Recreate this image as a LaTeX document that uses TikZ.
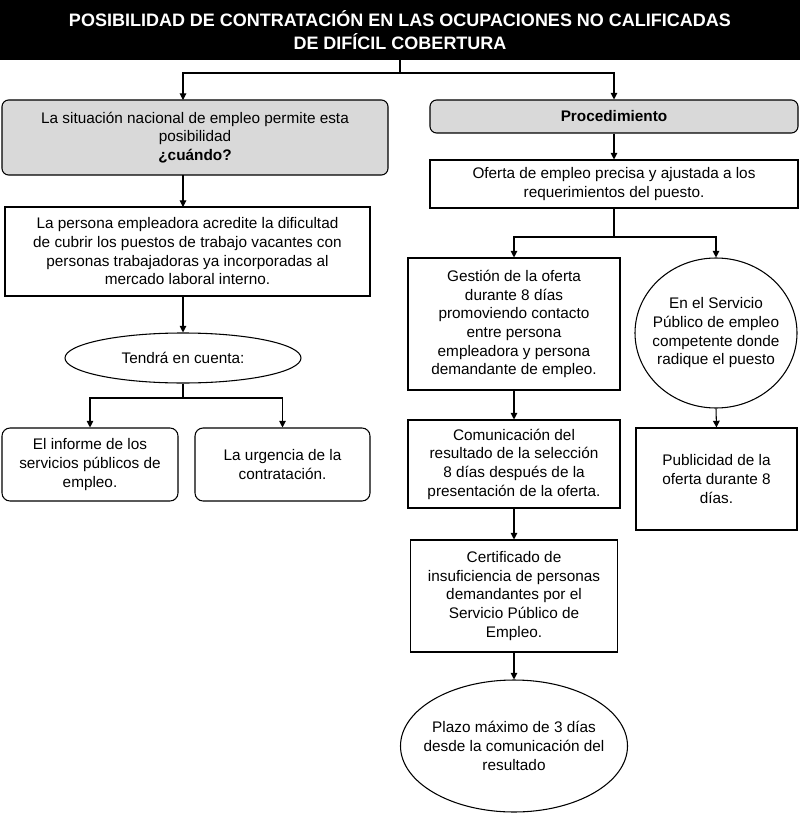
\documentclass[tikz,border=0pt]{standalone}
\usepackage{fontspec}
\setmainfont{Liberation Sans}
\usetikzlibrary{arrows.meta,shapes.geometric}
\begin{document}
\begin{tikzpicture}[x=0.75pt,y=-0.75pt,
 box/.style={draw,thick,fill=white,align=center,inner sep=1pt,font=\fontsize{11.5}{14}\selectfont},
 gbox/.style={box,fill=gray!30,rounded corners=5pt},
 rbox/.style={box,rounded corners=6pt},
 arr/.style={thick,-{Triangle[length=5pt,width=5pt]}},
 ln/.style={thick}]
\useasboundingbox (0,0) rectangle (800,813);
\node[fill=black,minimum width=800*0.75pt,minimum height=60*0.75pt,inner sep=0pt,text=white,align=center,font=\bfseries\fontsize{13.5}{17}\selectfont] (title) at (400,30) {POSIBILIDAD DE CONTRATACIÓN EN LAS OCUPACIONES NO CALIFICADAS\\DE DIFÍCIL COBERTURA};
\node[gbox,minimum width=386*0.75pt,minimum height=75*0.75pt] (sit) at (195,137.5) {La situación nacional de empleo permite esta\\posibilidad\\\textbf{¿cuándo?}};
\node[gbox,minimum width=368*0.75pt,minimum height=33*0.75pt] (proc) at (614,116.5) {\textbf{Procedimiento}};
\coordinate (j1) at (400,73);
\draw[ln] (title.south) -- (j1);
\draw[arr] (j1) -| (183,100);
\draw[arr] (j1) -| (proc.north);
\node[box,minimum width=365*0.75pt,minimum height=89*0.75pt] (acr) at (187.5,251.5) {La persona empleadora acredite la dificultad\\de cubrir los puestos de trabajo vacantes con\\personas trabajadoras ya incorporadas al\\mercado laboral interno.};
\draw[arr] (183,175) -- (183,207);
\node[box,ellipse,minimum width=236*0.75pt,minimum height=50*0.75pt] (ten) at (183,358) {Tendrá en cuenta:};
\draw[arr] (183,296) -- (ten.north);
\node[rbox,minimum width=176*0.75pt,minimum height=73*0.75pt] (inf) at (90,464.5) {El informe de los\\servicios públicos de\\empleo.};
\node[rbox,minimum width=175*0.75pt,minimum height=73*0.75pt] (urg) at (282.5,464.5) {La urgencia de la\\contratación.};
\coordinate (j2) at (183,398);
\draw[ln] (ten.south) -- (j2);
\draw[arr] (j2) -| (inf.north);
\draw[arr] (j2) -| (urg.north);
\node[box,minimum width=368*0.75pt,minimum height=48*0.75pt] (ofe) at (614,184) {Oferta de empleo precisa y ajustada a los\\requerimientos del puesto.};
\draw[arr] (proc.south) -- (ofe.north);
\node[box,minimum width=212*0.75pt,minimum height=132*0.75pt] (ges) at (514,324) {Gestión de la oferta\\durante 8 días\\promoviendo contacto\\entre persona\\empleadora y persona\\demandante de empleo.};
\node[box,ellipse,minimum width=162*0.75pt,minimum height=150*0.75pt,inner sep=-10pt] (srv) at (716,333) {En el Servicio\\Público de empleo\\competente donde\\radique el puesto};
\coordinate (j3) at (614,237);
\draw[ln] (ofe.south) -- (j3);
\draw[arr] (j3) -| (ges.north);
\draw[arr] (j3) -| (srv.north);
\node[box,minimum width=212*0.75pt,minimum height=88*0.75pt] (com) at (514,464) {Comunicación del\\resultado de la selección\\8 días después de la\\presentación de la oferta.};
\draw[arr] (ges.south) -- (com.north);
\node[box,minimum width=207*0.75pt,minimum height=112*0.75pt] (cer) at (514,596) {Certificado de\\insuficiencia de personas\\demandantes por el\\Servicio Público de\\Empleo.};
\draw[arr] (com.south) -- (cer.north);
\node[box,ellipse,minimum width=227*0.75pt,minimum height=132*0.75pt,inner sep=-10pt] (pla) at (514,746) {Plazo máximo de 3 días\\desde la comunicación del\\resultado};
\draw[arr] (cer.south) -- (pla.north);
\node[box,minimum width=161*0.75pt,minimum height=102*0.75pt] (pub) at (716.5,479) {Publicidad de la\\oferta durante 8\\días.};
\draw[arr] (srv.south) -- (pub.north);
\end{tikzpicture}
\end{document}
